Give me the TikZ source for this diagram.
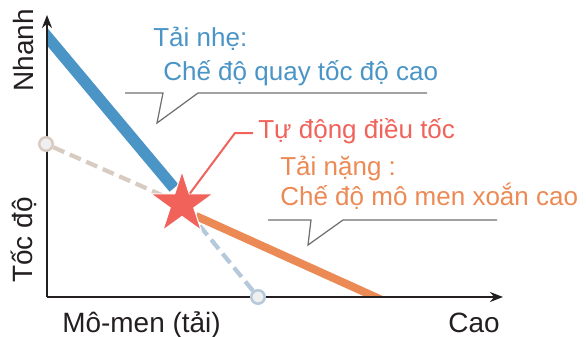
\documentclass[tikz,border=0pt]{standalone}
\usepackage{fontspec}
\setmainfont{Liberation Sans}
\usetikzlibrary{shapes.geometric, arrows.meta, backgrounds}
\definecolor{axisblack}{HTML}{231F20}
\definecolor{lightblue}{HTML}{4A94C6}
\definecolor{heavyorange}{HTML}{EC8A55}
\definecolor{autored}{HTML}{F0625A}
\definecolor{beigedash}{HTML}{D8CBC1}
\definecolor{bluedash}{HTML}{B6C9DB}
\definecolor{dotfill}{HTML}{EFEFEF}
\definecolor{calloutgray}{HTML}{6F7072}
\tikzstyle{axis} = [line width=0.05cm, draw=axisblack, -{Stealth[length=0.26cm,width=0.2cm]}]
\tikzstyle{callout} = [line width=0.025cm, draw=calloutgray]
\tikzstyle{leader} = [line width=0.04cm, draw=autored]
\tikzstyle{dashline} = [line width=0.085cm, dash pattern=on 0.24cm off 0.12cm]
\tikzstyle{endpt} = [circle, minimum size=0.27cm, inner sep=0pt, line width=0.05cm, fill=dotfill]
\tikzstyle{regstar} = [star, star points=5, star point ratio=2.618, minimum size=1.3cm, inner sep=0pt, fill=autored, draw=white, line width=0.02cm]
\tikzstyle{lbl} = [anchor=base west, inner sep=0pt, font=\fontsize{14.8}{17}\selectfont]
\tikzstyle{axlbl} = [anchor=base west, inner sep=0pt, text=axisblack, font=\fontsize{15.9}{18}\selectfont]

\begin{document}
\begin{tikzpicture}[x=0.02cm, y=-0.02cm]
	\useasboundingbox (0,0) rectangle (586,336);
	%Working point and end points
	\node[regstar] (regpt) at (182,204) {};
	\node[endpt, draw=beigedash] (lowtorque) at (46,144) {};
	\node[endpt, draw=bluedash] (lowspeed) at (258,297) {};
	%Axes
	\coordinate (orig) at (47,297);
	\coordinate (ytip) at (47,15);
	\coordinate (xtip) at (503,297);
	%Speed curves
	\coordinate (bluetop) at (39,27);
	\coordinate (blueend) at (174,188);
	\coordinate (orangestart) at (196,216);
	\coordinate (orangeend) at (382,300);
	\begin{pgfonlayer}{background}
		\begin{scope}
			\clip (orig) rectangle (560,0);
			\draw[line width=0.23cm, lightblue] (bluetop) -- (blueend);
			\draw[line width=0.16cm, heavyorange] (orangestart) -- (orangeend);
		\end{scope}
		\draw[axis] (orig) -- (ytip);
		\draw[axis] (orig) -- (xtip);
		%Dashed lines (under the star)
		\draw[dashline, beigedash] (lowtorque) -- (regpt.center);
		\draw[dashline, bluedash] (lowspeed) -- (regpt.center);
	\end{pgfonlayer}
	%Light load
	\node[lbl, text=lightblue] (lighthd) at (153,46) {Tải nhẹ:};
	\node[lbl, text=lightblue] (lightmd) at (163,80) {Chế độ quay tốc độ cao};
	\draw[callout] (125,93) -- (163,93) -- (157,123) -- (198,93) -- (427,93);
	%Automatic regulation
	\node[lbl, text=autored] (autohd) at (258,138) {Tự động điều tốc};
	\draw[leader] (regpt) -- (235,133) -- (253,133);
	%Heavy load
	\node[lbl, text=heavyorange] (heavyhd) at (280,175) {Tải nặng :};
	\node[lbl, text=heavyorange] (heavymd) at (280,205) {Chế độ mô men xoắn cao};
	\draw[callout] (268,220) -- (311,220) -- (308,245) -- (343,220) -- (497,220);
	%Axis labels
	\node[axlbl] (xlow) at (62,332) {Mô-men (tải)};
	\node[axlbl] (xhigh) at (448,332) {Cao};
	\node[axlbl, rotate=90] (yhigh) at (33,92) {Nhanh};
	\node[axlbl, rotate=90] (ylow) at (32,283) {Tốc độ};
\end{tikzpicture}
\end{document}
